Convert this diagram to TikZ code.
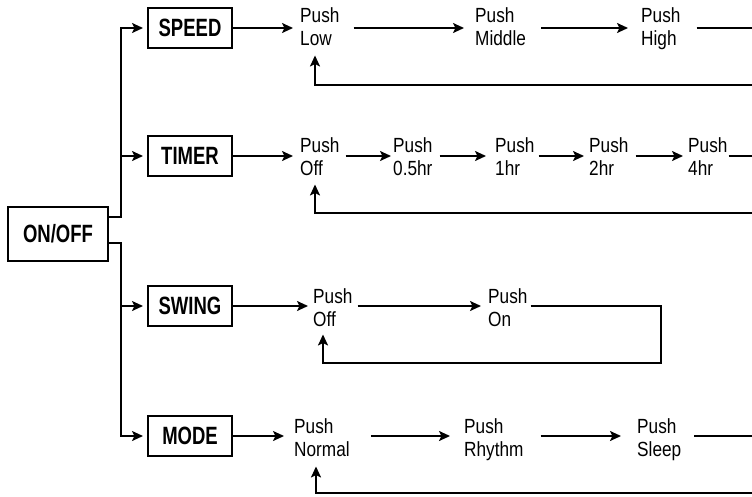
\documentclass[tikz,border=0pt]{standalone}
\usepackage{fontspec}
\setmainfont{Liberation Sans}[FakeStretch=0.84]
\newfontfamily\boxfont{Liberation Sans}[FakeStretch=0.74]
\usepackage{tikz}
\usetikzlibrary{arrows.meta}

\begin{document}
\begin{tikzpicture}[x=1pt,y=-1pt,
  box/.style={draw,line width=2pt,minimum width=84pt,minimum height=40pt,inner sep=0pt,font=\boxfont\bfseries\fontsize{25}{25}\selectfont},
  push/.style={anchor=north west,align=left,inner sep=0pt,font=\fontsize{20.5}{23}\selectfont},
  wire/.style={line width=2pt},
  flow/.style={wire,-{Stealth[length=11pt,width=10pt,inset=2.5pt]}}]
\useasboundingbox (0,0) rectangle (752,496);
\clip (0,0) rectangle (752,496);

% Boxes
\node[box,minimum width=100pt,minimum height=54pt] (onoff) at (58,234) {ON/OFF};
\node[box] (speed) at (190,28) {SPEED};
\node[box] (timer) at (190,156) {TIMER};
\node[box] (swing) at (190,306) {SWING};
\node[box] (mode) at (190,436) {MODE};

% Rows and loops
\coordinate (trunk) at (121,0);
\coordinate (spdRow) at (0,28);
\coordinate (tmrRow) at (0,156);
\coordinate (swgRow) at (0,306);
\coordinate (modRow) at (0,436);
\coordinate (spdLoop) at (760,85);
\coordinate (tmrLoop) at (760,213);
\coordinate (swgLoop) at (661,363);
\coordinate (modLoop) at (760,493);

% Text Node
\node[push] (low) at (300,7) {Push\\Low};
\node[push] (middle) at (475,7) {Push\\Middle};
\node[push] (high) at (641,7) {Push\\High};
% Text Node
\node[push] (off) at (300,137) {Push\\Off};
\node[push] (half) at (393,137) {Push\\0.5hr};
\node[push] (one) at (495,137) {Push\\1hr};
\node[push] (two) at (589,137) {Push\\2hr};
\node[push] (four) at (688,137) {Push\\4hr};
% Text Node
\node[push] (swoff) at (313,288) {Push\\Off};
\node[push] (swon) at (488,288) {Push\\On};
% Text Node
\node[push] (normal) at (294,418) {Push\\Normal};
\node[push] (rhythm) at (464,418) {Push\\Rhythm};
\node[push] (sleep) at (637,418) {Push\\Sleep};

% ON/OFF to the four keys
\draw[flow,shorten >=4pt] ([yshift=17pt]onoff.east) -| (speed.west -| trunk) -- (speed.west);
\draw[flow,shorten >=4pt] (timer.west -| trunk) -- (timer.west);
\draw[flow,shorten >=4pt] ([yshift=-9pt]onoff.east) -| (mode.west -| trunk) -- (mode.west);
\draw[flow,shorten >=4pt] (swing.west -| trunk) -- (swing.west);

%Straight Lines: speed
\draw[flow,shorten >=7pt] (speed.east |- spdRow) -- (low.west |- spdRow);
\draw[flow,shorten <=14pt,shorten >=11pt] (low.east |- spdRow) -- (middle.west |- spdRow);
\draw[flow,shorten <=15pt,shorten >=13pt] (middle.east |- spdRow) -- (high.west |- spdRow);
\draw[flow,shorten <=16pt] (high.east |- spdRow) -- (spdRow -| spdLoop) -- (spdLoop) -| ([shift={(15,10)}]low.south west);

%Straight Lines: timer
\draw[flow,shorten >=7pt] (timer.east |- tmrRow) -- (off.west |- tmrRow);
\draw[flow,shorten <=6pt,shorten >=2pt] (off.east |- tmrRow) -- (half.west |- tmrRow);
\draw[flow,shorten <=7pt,shorten >=9pt] (half.east |- tmrRow) -- (one.west |- tmrRow);
\draw[flow,shorten <=4pt,shorten >=5pt] (one.east |- tmrRow) -- (two.west |- tmrRow);
\draw[flow,shorten <=7pt,shorten >=5pt] (two.east |- tmrRow) -- (four.west |- tmrRow);
\draw[flow,shorten <=1pt] (four.east |- tmrRow) -- (tmrRow -| tmrLoop) -- (tmrLoop) -| ([shift={(15,9)}]off.south west);

%Straight Lines: swing
\draw[flow,shorten >=5pt] (swing.east |- swgRow) -- (swoff.west |- swgRow);
\draw[flow,shorten <=5pt,shorten >=7pt] (swoff.east |- swgRow) -- (swon.west |- swgRow);
\draw[flow,shorten <=3pt] (swon.east |- swgRow) -- (swgRow -| swgLoop) -- (swgLoop) -| ([shift={(10,8)}]swoff.south west);

%Straight Lines: mode
\draw[flow,shorten >=10pt] (mode.east |- modRow) -- (normal.west |- modRow);
\draw[flow,shorten <=21pt,shorten >=14pt] (normal.east |- modRow) -- (rhythm.west |- modRow);
\draw[flow,shorten <=17pt,shorten >=16pt] (rhythm.east |- modRow) -- (sleep.west |- modRow);
\draw[flow,shorten <=13pt] (sleep.east |- modRow) -- (modRow -| modLoop) -- (modLoop) -| ([shift={(22,10)}]normal.south west);
\end{tikzpicture}
\end{document}
